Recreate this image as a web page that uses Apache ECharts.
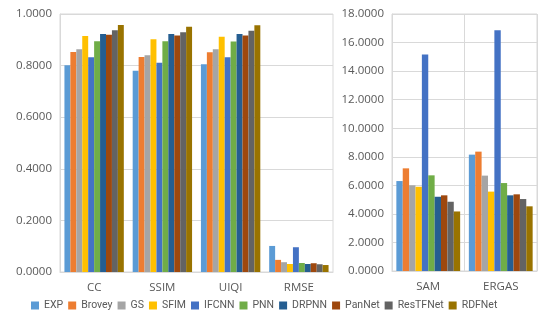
<!DOCTYPE html>
<html><head><meta charset="utf-8">
<script src="https://cdn.jsdelivr.net/npm/echarts@6/dist/echarts.min.js"></script>
<style>html,body{margin:0;padding:0;background:#fff}#c{width:550px;height:325px}</style>
</head><body><div id="c"></div>
<script>
const methods = ['EXP','Brovey','GS','SFIM','IFCNN','PNN','DRPNN','PanNet','ResTFNet','RDFNet'];
const colors = ['#5B9BD5','#ED7D31','#A5A5A5','#FFC000','#4472C4','#70AD47','#255E91','#9E480E','#636363','#997300'];
const leftCats = ['CC','SSIM','UIQI','RMSE'];
const rightCats = ['SAM','ERGAS'];
const leftTicks = [0, 0.2, 0.4, 0.6, 0.8, 1.0];
const rightTicks = [0, 2, 4, 6, 8, 10, 12, 14, 16, 18];
// values per method: [CC, SSIM, UIQI, RMSE]
const EXP_L = [0.801, 0.780, 0.805, 0.101];
const Brovey_L = [0.853, 0.833, 0.852, 0.047];
const GS_L = [0.863, 0.840, 0.863, 0.038];
const SFIM_L = [0.915, 0.902, 0.912, 0.031];
const IFCNN_L = [0.832, 0.811, 0.832, 0.096];
const PNN_L = [0.894, 0.894, 0.893, 0.035];
const DRPNN_L = [0.922, 0.922, 0.922, 0.031];
const PanNet_L = [0.920, 0.917, 0.917, 0.034];
const ResTFNet_L = [0.937, 0.929, 0.935, 0.030];
const RDFNet_L = [0.957, 0.951, 0.956, 0.027];
// values per method: [SAM, ERGAS]
const EXP_R = [6.30, 8.15];
const Brovey_R = [7.19, 8.36];
const GS_R = [6.00, 6.68];
const SFIM_R = [5.90, 5.56];
const IFCNN_R = [15.17, 16.86];
const PNN_R = [6.70, 6.16];
const DRPNN_R = [5.20, 5.30];
const PanNet_R = [5.30, 5.37];
const ResTFNet_R = [4.85, 5.04];
const RDFNet_R = [4.17, 4.53];

const leftVals = [EXP_L, Brovey_L, GS_L, SFIM_L, IFCNN_L, PNN_L, DRPNN_L, PanNet_L, ResTFNet_L, RDFNet_L];
const rightVals = [EXP_R, Brovey_R, GS_R, SFIM_R, IFCNN_R, PNN_R, DRPNN_R, PanNet_R, ResTFNet_R, RDFNet_R];

const FONT = 'Open Sans';
const LFONT = 'Roboto';
const TXT = '#595959';
const GRID = '#d9d9d9';

const series = [];
methods.forEach((m, i) => {
  series.push({name: m, type: 'bar', xAxisIndex: 0, yAxisIndex: 0, data: leftVals[i],
    itemStyle: {color: colors[i]}, barGap: '0%', barCategoryGap: '13%', animation: false});
});
methods.forEach((m, i) => {
  series.push({name: m, type: 'bar', xAxisIndex: 1, yAxisIndex: 1, data: rightVals[i],
    itemStyle: {color: colors[i]}, barGap: '0%', barCategoryGap: '12%', animation: false});
});

const chart = echarts.init(document.getElementById('c'), null, {renderer: 'canvas'});
chart.setOption({
  animation: false,
  textStyle: {fontFamily: FONT, color: TXT},
  color: colors,
  legend: {
    data: methods, bottom: 9, left: 26, itemWidth: 8, itemHeight: 8, itemGap: 5,
    icon: 'rect', textStyle: {fontFamily: LFONT, fontSize: 10.5, color: TXT}
  },
  grid: [
    {left: 60, right: 217, top: 14, bottom: 53, show: true, borderColor: GRID, borderWidth: 1},
    {left: 392, right: 13, top: 14, bottom: 54, show: true, borderColor: GRID, borderWidth: 1}
  ],
  xAxis: [
    {type: 'category', gridIndex: 0, data: leftCats, axisTick: {show: false},
     axisLine: {lineStyle: {color: GRID}}, splitLine: {show: false},
     axisLabel: {fontFamily: FONT, fontSize: 11.5, color: TXT, margin: 10}},
    {type: 'category', gridIndex: 1, data: rightCats, axisTick: {show: false},
     axisLine: {lineStyle: {color: GRID}}, splitLine: {show: true, lineStyle: {color: GRID}},
     axisLabel: {fontFamily: FONT, fontSize: 11.5, color: TXT, margin: 10}}
  ],
  yAxis: [
    {type: 'value', gridIndex: 0, min: leftTicks[0], max: leftTicks[leftTicks.length-1], interval: 0.2,
     axisLine: {show: true, lineStyle: {color: GRID}}, axisTick: {show: false},
     splitLine: {lineStyle: {color: GRID}},
     axisLabel: {fontFamily: FONT, fontSize: 11.5, color: TXT, margin: 8, formatter: v => v.toFixed(4)}},
    {type: 'value', gridIndex: 1, min: rightTicks[0], max: rightTicks[rightTicks.length-1], interval: 2,
     axisLine: {show: true, lineStyle: {color: GRID}}, axisTick: {show: false},
     splitLine: {lineStyle: {color: GRID}},
     axisLabel: {fontFamily: FONT, fontSize: 11.5, color: TXT, margin: 8, formatter: v => v.toFixed(4)}}
  ],
  series: series
});
</script></body></html>
